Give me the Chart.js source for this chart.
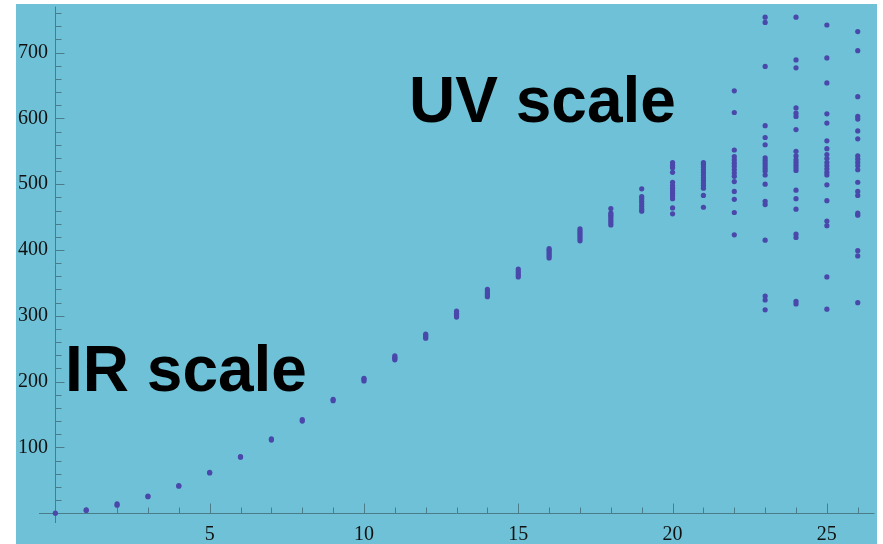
<!DOCTYPE html>
<html>
<head>
<meta charset="utf-8">
<script src="https://cdn.jsdelivr.net/npm/chart.js@4"></script>
<style>
  body { margin: 0; background: #fff; width: 883px; height: 544px; overflow: hidden; }
  #wrap { position: absolute; left: 16px; top: 4px; width: 861px; height: 540px; background: #6ec1d6; }
  .note { position: absolute; font: bold 64px "Liberation Sans", Arial, sans-serif; line-height: 1; color: #000; white-space: nowrap; }
</style>
</head>
<body>
<div id="wrap"><canvas id="myChart"></canvas></div>
<div class="note" style="left:409px;top:68px">UV scale</div>
<div class="note" style="left:65px;top:337px">IR scale</div>
<script>
// DATA

const xValues = [0, 1, 2, 3, 4, 5, 6, 7, 8, 9, 10, 11, 12, 13, 14, 15, 16, 17, 18, 19, 20, 21, 22, 23, 24, 25, 26];
const yValues = [
  [0],
  [4, 5],
  [12, 14],
  [25, 26],
  [41, 42],
  [61, 62],
  [85, 86],
  [111, 113],
  [140, 142],
  [171, 173],
  [201, 203, 205],
  [233, 235, 237, 239],
  [266, 268, 270, 272],
  [298, 300, 302, 304, 307],
  [329, 332, 334, 337, 340],
  [359, 362, 365, 368, 371],
  [388, 391, 394, 397, 400, 402],
  [414, 417, 420, 423, 426, 429, 432],
  [438, 441, 444, 447, 450, 453, 456, 463],
  [459, 462, 466, 470, 474, 478, 481, 493],
  [455, 464, 478, 482, 486, 490, 494, 498, 503, 518, 525, 529, 533],
  [465, 483, 494, 498, 502, 506, 510, 514, 518, 522, 526, 530, 533],
  [423, 457, 477, 489, 504, 512, 517, 522, 527, 532, 537, 542, 552, 609, 642],
  [309, 324, 330, 415, 469, 474, 500, 514, 520, 524, 528, 532, 536, 540, 560, 571, 589, 679, 746, 754],
  [318, 322, 419, 424, 462, 478, 491, 521, 525, 529, 533, 537, 543, 550, 583, 603, 608, 616, 677, 689, 754],
  [310, 359, 437, 444, 475, 499, 514, 518, 523, 528, 533, 539, 545, 554, 566, 593, 607, 654, 692, 742],
  [320, 391, 399, 453, 456, 483, 489, 503, 522, 528, 533, 538, 543, 569, 581, 599, 603, 633, 703, 732]
];
const xTicks = [5, 10, 15, 20, 25];
const yTicks = [100, 200, 300, 400, 500, 600, 700];

const points = [];
xValues.forEach((x, i) => {
  yValues[i].forEach(y => points.push({ x: x, y: y }));
});

const axisColor = '#4a7c8a';
const tickFont = { family: '"Liberation Serif", "Times New Roman", serif', size: 20 };

// mathematica style axes: lines through the origin, ticks pointing inward
const mmaAxes = {
  id: 'mmaAxes',
  beforeDatasetsDraw(chart) {
    const ctx = chart.ctx;
    const a = chart.chartArea;
    const xs = chart.scales.x;
    const ys = chart.scales.y;
    const x0 = Math.round(xs.getPixelForValue(0)) + 0.5;
    const y0 = Math.round(ys.getPixelForValue(0)) + 0.5;
    ctx.save();
    ctx.strokeStyle = axisColor;
    ctx.lineWidth = 1;
    ctx.beginPath();
    ctx.moveTo(a.left, y0);
    ctx.lineTo(a.right, y0);
    ctx.moveTo(x0, a.top);
    ctx.lineTo(x0, a.bottom);
    for (let v = 1; v <= xs.max; v++) {
      const px = Math.round(xs.getPixelForValue(v)) + 0.5;
      const len = v % 5 === 0 ? 10 : 6;
      ctx.moveTo(px, y0);
      ctx.lineTo(px, y0 - len);
    }
    for (let v = 20; v <= ys.max; v += 20) {
      const py = Math.round(ys.getPixelForValue(v)) + 0.5;
      const len = v % 100 === 0 ? 9 : 6;
      ctx.moveTo(x0, py);
      ctx.lineTo(x0 + len, py);
    }
    ctx.stroke();
    ctx.restore();
  }
};

new Chart("myChart", {
  type: "scatter",
  data: {
    datasets: [{
      data: points,
      backgroundColor: "rgb(74, 72, 170)",
      borderWidth: 0,
      pointRadius: 2.6,
      pointHoverRadius: 2.6
    }]
  },
  options: {
    responsive: true,
    maintainAspectRatio: false,
    animation: false,
    layout: { padding: 0 },
    plugins: {
      legend: { display: false },
      tooltip: { enabled: false }
    },
    scales: {
      x: {
        type: "linear",
        min: -0.53,
        max: 26.54,
        grid: { display: false, drawTicks: false },
        border: { display: false },
        afterBuildTicks: s => { s.ticks = xTicks.map(v => ({ value: v })); },
        afterFit: s => { s.height = 21; s.paddingLeft = 0; s.paddingRight = 0; },
        ticks: { autoSkip: false, maxRotation: 0, padding: 0, color: "#111", font: tickFont }
      },
      y: {
        type: "linear",
        min: -15,
        max: 770,
        grid: { display: false, drawTicks: false },
        border: { display: false },
        afterBuildTicks: s => { s.ticks = yTicks.map(v => ({ value: v })); },
        afterFit: s => { s.width = 23; s.paddingTop = 0; s.paddingBottom = 0; },
        // mirrored so the labels are not clipped to the narrow axis box
        ticks: { autoSkip: false, mirror: true, crossAlign: "far", padding: -21, color: "#111", font: tickFont }
      }
    }
  },
  plugins: [mmaAxes]
});
</script>
</body>
</html>
